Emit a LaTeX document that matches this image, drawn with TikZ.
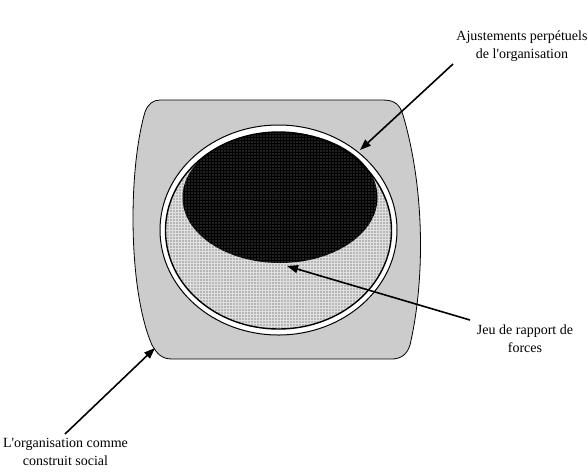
\documentclass[tikz,border=0pt]{standalone}
\usepackage{fontspec}
\setmainfont{Liberation Serif}
\usetikzlibrary{arrows.meta,patterns.meta}
\tikzdeclarepattern{
  name=lightdots,
  type=uncolored,
  bounding box={(-1.5pt,-1.5pt) and (1.5pt,1.5pt)},
  tile size={(3pt,3pt)},
  code={\fill (0,0) circle (0.95pt);}
}
\tikzdeclarepattern{
  name=darkdots,
  type=uncolored,
  bounding box={(-1.5pt,-1.5pt) and (1.5pt,1.5pt)},
  tile size={(3pt,3pt)},
  code={\fill (0,0) circle (0.7pt);}
}
\begin{document}
\begin{tikzpicture}[x=1pt,y=-1pt,
  lbl/.style={align=center,font=\fontsize{14}{18}\selectfont,inner sep=0pt},
  arr/.style={line width=1.6pt,-{Triangle[length=11pt,width=8pt]}}]
\useasboundingbox (0,0) rectangle (588,475);
% outer grey barrel shape
\filldraw[fill=black!20,draw=black,line width=0.8pt]
  (160,100) -- (383,100) .. controls (395,100) and (400,105) .. (403,115)
  .. controls (425,190) and (425,280) .. (410,345)
  .. controls (407,355) and (400,359) .. (392,359) -- (172,359)
  .. controls (162,359) and (157,354) .. (152,345)
  .. controls (128,290) and (128,170) .. (145,112)
  .. controls (148,104) and (153,100) .. (160,100) -- cycle;
% white ring
\filldraw[fill=white,draw=black,line width=1pt] (278.5,230) ellipse [x radius=118.5,y radius=105];
\fill[black!12] (278.5,230.5) ellipse [x radius=113,y radius=98.5];
\fill[pattern=lightdots,pattern color=black!45] (278.5,230.5) ellipse [x radius=113,y radius=98.5];
% dark ellipse
\fill[black] (280,197.5) ellipse [x radius=97.5,y radius=65.5];
\fill[pattern=darkdots,pattern color=black!45] (280,197.5) ellipse [x radius=97.5,y radius=65.5];
\draw[black,line width=1.4pt] (278.5,230.5) ellipse [x radius=113,y radius=98.5];
% labels
\node[lbl] (ajust) at (522,46) {Ajustements perpétuels\\de l\textquotesingle organisation};
\node[lbl] (jeu) at (525,339) {Jeu de rapport de\\forces};
\node[lbl] (orga) at (65.5,452) {L\textquotesingle organisation comme\\construit social};
% arrow end points
\coordinate (s1) at (453,64);
\coordinate (t1) at (360,150);
\coordinate (s2) at (470,320);
\coordinate (t2) at (287,266);
\coordinate (s3) at (65,434);
\coordinate (t3) at (155,348);
\draw[arr] (s1) -- (t1);
\draw[arr] (s2) -- (t2);
\draw[arr] (s3) -- (t3);
\end{tikzpicture}
\end{document}
